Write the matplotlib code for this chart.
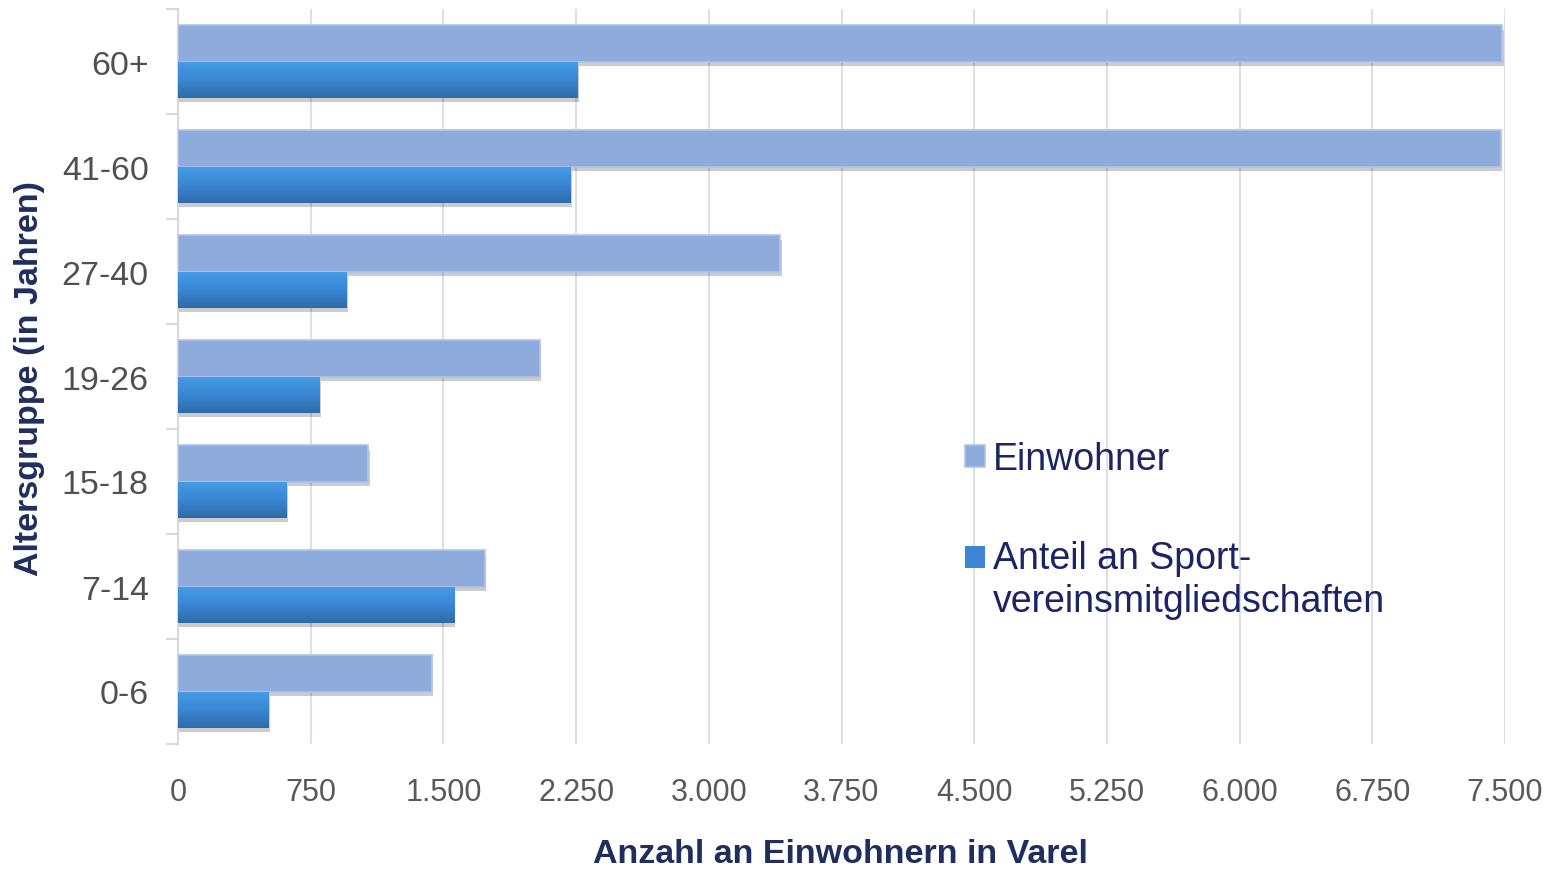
import matplotlib
matplotlib.use("Agg")
import matplotlib.pyplot as plt
import matplotlib.patheffects as pe
import numpy as np
from matplotlib.colors import LinearSegmentedColormap

categories = ["0-6", "7-14", "15-18", "19-26", "27-40", "41-60", "60+"]
einwohner = [1435, 1735, 1075, 2045, 3405, 7475, 7485]
sport = [510, 1560, 615, 800, 955, 2220, 2260]
xticks = [0, 750, 1500, 2250, 3000, 3750, 4500, 5250, 6000, 6750, 7500]
xticklabels = ["0", "750", "1.500", "2.250", "3.000", "3.750", "4.500",
               "5.250", "6.000", "6.750", "7.500"]

plt.rcParams['font.family'] = ['Liberation Sans', 'DejaVu Sans']

fig = plt.figure(figsize=(15.5, 8.7), dpi=100)
ax = fig.add_axes([178/1550, 1-745/870, (1505-178)/1550, (745-10)/870])

y = np.arange(len(categories))
h = 0.343
shadow = [pe.SimplePatchShadow(offset=(1, -3), shadow_rgbFace='#000000', alpha=0.2), pe.Normal()]

b1 = ax.barh(y + h/2, einwohner, height=h, color='#8EABDC', edgecolor='#AFC4EA',
             linewidth=1.2, zorder=3, label='Einwohner', path_effects=shadow)
b2 = ax.barh(y - h/2, sport, height=h, color='#3A86D2', edgecolor='none',
             linewidth=0, zorder=3, label='Anteil an Sport-\nvereinsmitgliedschaften',
             path_effects=shadow)

cmap = LinearSegmentedColormap.from_list('g', ['#2E6BAA', '#3B87D3', '#459CE6'])
grad = np.linspace(0, 1, 100).reshape(-1, 1)
for p in b2.patches:
    x0, y0 = p.get_x(), p.get_y()
    w, hh = p.get_width(), p.get_height()
    im = ax.imshow(grad, cmap=cmap, aspect='auto', origin='lower',
                   extent=[x0, x0 + w, y0, y0 + hh], zorder=4)
    im.set_clip_path(p)

ax.set_xlim(0, 7500)
ax.set_ylim(-0.5, len(categories) - 0.5)

ax.set_xticks(xticks)
ax.set_xticklabels(xticklabels, fontsize=22, color='#595959')
ax.tick_params(axis='x', length=0, pad=24)
ax.set_yticks(y)
ax.set_yticklabels(categories, fontsize=24.5, color='#505050')
ax.tick_params(axis='y', which='major', length=0, pad=21)
ax.set_yticks(np.arange(-0.5, len(categories)), minor=True)
ax.tick_params(axis='y', which='minor', length=9, width=1.5, color='#D9D9D9', direction='out')

ax.grid(axis='x', color='#DCE0E8', linewidth=1.5, zorder=0)
ax.set_axisbelow(True)
for s in ['top', 'right', 'bottom']:
    ax.spines[s].set_visible(False)
ax.spines['left'].set_color('#D9D9D9')
ax.spines['left'].set_linewidth(1.5)

ax.set_xlabel('Anzahl an Einwohnern in Varel', fontsize=24.5, fontweight='bold',
              color='#1F2E5E')
ax.set_ylabel('Altersgruppe (in Jahren)', fontsize=24.5, fontweight='bold',
              color='#1F2E5E')
ax.xaxis.set_label_coords((840-178)/1327, -(855-745)/735)
ax.xaxis.label.set_va('center')
ax.yaxis.set_label_coords((30-178)/1327, 1-(379-10)/735)
ax.yaxis.label.set_va('center')
ax.yaxis.label.set_ha('center')

leg = fig.legend(handles=[b1, b2], loc='upper left', bbox_to_anchor=(965/1550, 1-442/870),
                 frameon=False, fontsize=27, handlelength=0.53, handleheight=0.53,
                 handletextpad=0.22, labelspacing=1.68, borderaxespad=0, borderpad=0)
for t in leg.get_texts():
    t.set_color('#1A2466')
    t.set_linespacing(1.25)
for hnd in leg.legend_handles:
    hnd.set_path_effects([])
hs = leg.legend_handles[1]
hs.set_y(hs.get_y() + 16.5)

fig.savefig('out.png', dpi=100, facecolor='white')
